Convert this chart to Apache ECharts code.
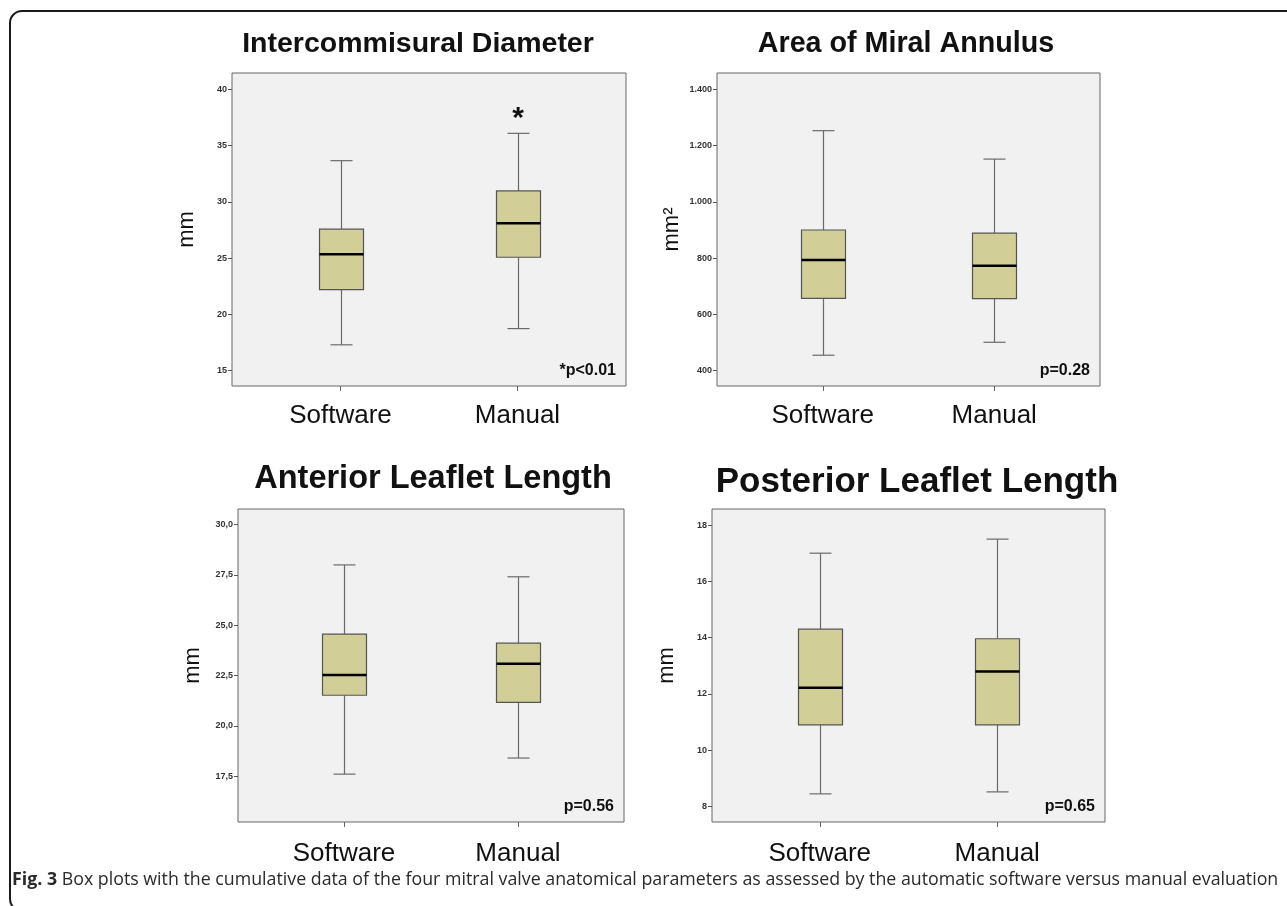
<!DOCTYPE html>
<html>
<head>
<meta charset="utf-8">
<script src="https://cdn.jsdelivr.net/npm/echarts@6/dist/echarts.min.js"></script>
<style>
    html, body { margin: 0; padding: 0; background: #fff; }
    #main { width: 1287px; height: 906px; }
</style>
</head>
<body>
<div id="main"></div>
<script>
    // box values: [low whisker, Q1, median, Q3, high whisker], one row per category
    var categories = ['Software', 'Manual'];

    var diameterBoxes = [
        [17.3, 22.2, 25.35, 27.57, 33.66],
        [18.74, 25.08, 28.1, 30.97, 36.09]
    ];
    var areaBoxes = [
        [455, 657, 793, 900, 1253],
        [501, 656, 773, 889, 1152]
    ];
    var anteriorBoxes = [
        [17.6, 21.52, 22.53, 24.56, 28.0],
        [18.4, 21.17, 23.09, 24.11, 27.41]
    ];
    var posteriorBoxes = [
        [8.45, 10.9, 12.22, 14.3, 17.0],
        [8.52, 10.9, 12.8, 13.96, 17.5]
    ];

    var diameterTicks = [15, 20, 25, 30, 35, 40];
    var areaTicks = [400, 600, 800, 1000, 1200, 1400];
    var anteriorTicks = [17.5, 20, 22.5, 25, 27.5, 30];
    var posteriorTicks = [8, 10, 12, 14, 16, 18];

    var titles = ['Intercommisural Diameter', 'Area of Miral Annulus', 'Anterior Leaflet Length', 'Posterior Leaflet Length'];
    var units = ['mm', 'mm²', 'mm', 'mm'];
    var pValues = ['*p<0.01', 'p=0.28', 'p=0.56', 'p=0.65'];

    var FONT = '"Liberation Sans", Arial, sans-serif';

    // layout of each panel: plot frame and the inner band holding the two boxes
    var panels = [
        {frame: [232, 73, 394, 313], inner: [252, 354], range: [13.64, 41.45],
            titleX: 413, titleY: 25, titleSize: 28.5, labelGap: 17,
            boxes: diameterBoxes, ticks: diameterTicks, fmt: function (v) { return String(v); }},
        {frame: [717, 73, 383, 313], inner: [737, 343], range: [345.6, 1458],
            titleX: 901, titleY: 25, titleSize: 28.7, labelGap: 17,
            boxes: areaBoxes, ticks: areaTicks, fmt: function (v) { return v >= 1000 ? (v / 1000).toFixed(3) : String(v); }},
        {frame: [238, 509, 386, 313], inner: [257, 348], range: [15.22, 30.78],
            titleX: 428, titleY: 458, titleSize: 32.5, labelGap: 19,
            boxes: anteriorBoxes, ticks: anteriorTicks, fmt: function (v) { return v.toFixed(1).replace('.', ','); }},
        {frame: [712, 509, 393, 313], inner: [731, 355], range: [7.45, 18.57],
            titleX: 912, titleY: 460, titleSize: 35, labelGap: 19,
            boxes: posteriorBoxes, ticks: posteriorTicks, fmt: function (v) { return String(v); }}
    ];

    function renderBox(params, api) {
        var idx = api.value(0);
        var low = api.coord([idx, api.value(1)]);
        var q1 = api.coord([idx, api.value(2)]);
        var med = api.coord([idx, api.value(3)]);
        var q3 = api.coord([idx, api.value(4)]);
        var high = api.coord([idx, api.value(5)]);
        var cx = Math.round(low[0]) + 0.5;
        var half = 22, cap = 11;
        var whisker = {stroke: '#6a6a6a', lineWidth: 1.2};
        return {
            type: 'group',
            children: [
                {type: 'line', shape: {x1: cx, y1: q3[1], x2: cx, y2: high[1]}, style: whisker},
                {type: 'line', shape: {x1: cx, y1: q1[1], x2: cx, y2: low[1]}, style: whisker},
                {type: 'line', shape: {x1: cx - cap, y1: high[1], x2: cx + cap, y2: high[1]}, style: whisker},
                {type: 'line', shape: {x1: cx - cap, y1: low[1], x2: cx + cap, y2: low[1]}, style: whisker},
                {type: 'rect', shape: {x: cx - half, y: q3[1], width: half * 2, height: q1[1] - q3[1]},
                    style: {fill: '#d1ce98', stroke: '#555', lineWidth: 1.2}},
                {type: 'line', shape: {x1: cx - half, y1: med[1], x2: cx + half, y2: med[1]},
                    style: {stroke: '#000', lineWidth: 2.5}}
            ]
        };
    }

    var grid = [], xAxis = [], yAxis = [], series = [], title = [];
    var graphic = [
        {type: 'rect', z: -10, shape: {x: 10, y: 11, width: 1300, height: 900, r: 12},
            style: {fill: 'none', stroke: '#1a1a1a', lineWidth: 2}}
    ];

    panels.forEach(function (p, k) {
        grid[k] = {left: p.frame[0], top: p.frame[1], width: p.frame[2], height: p.frame[3],
            show: true, backgroundColor: '#f1f1f1', borderColor: '#666', borderWidth: 1};
        grid[4 + k] = {left: p.inner[0], top: p.frame[1], width: p.inner[1], height: p.frame[3]};

        xAxis[k] = {type: 'value', gridIndex: k, show: false};
        xAxis[4 + k] = {
            type: 'category', gridIndex: 4 + k, data: categories,
            axisLine: {show: false},
            axisTick: {show: true, alignWithLabel: true, length: 5, lineStyle: {color: '#666'}},
            axisLabel: {fontFamily: FONT, fontSize: 26, color: '#111', margin: p.labelGap}
        };
        yAxis[k] = {
            type: 'value', gridIndex: k, min: p.range[0], max: p.range[1],
            splitLine: {show: false}, axisLine: {show: false},
            axisTick: {show: true, length: 4, customValues: p.ticks, lineStyle: {color: '#555'}},
            axisLabel: {customValues: p.ticks, formatter: p.fmt, fontFamily: FONT, fontSize: 9,
                fontWeight: 'bold', color: '#333', margin: 5},
            name: units[k], nameLocation: 'middle', nameRotate: 90, nameGap: 34,
            nameTextStyle: {fontFamily: FONT, fontSize: 22, color: '#111'}
        };
        yAxis[4 + k] = {type: 'value', gridIndex: 4 + k, min: p.range[0], max: p.range[1], show: false};

        series.push({
            type: 'custom', xAxisIndex: 4 + k, yAxisIndex: 4 + k,
            renderItem: renderBox,
            encode: {x: 0, y: [1, 2, 3, 4, 5]},
            data: p.boxes.map(function (b, i) { return [i].concat(b); })
        });

        title.push({
            text: titles[k], left: p.titleX, top: p.titleY, textAlign: 'center',
            textStyle: {fontFamily: FONT, fontSize: p.titleSize, fontWeight: 'bold', color: '#111'}
        });

        graphic.push({
            type: 'text', z: 10,
            x: p.frame[0] + p.frame[2] - 10, y: p.frame[1] + p.frame[3] - 15,
            style: {text: pValues[k], font: 'bold 16px ' + FONT, fill: '#111', align: 'right', verticalAlign: 'middle'}
        });
    });

    // significance star above the manual box of the first panel
    graphic.push({
        type: 'text', z: 10, x: 518, y: 119,
        style: {text: '*', font: 'bold 30px ' + FONT, fill: '#111', align: 'center', verticalAlign: 'middle'}
    });

    graphic.push({
        type: 'text', z: 10, x: 12, y: 880,
        style: {
            text: '{b|Fig. 3} Box plots with the cumulative data of the four mitral valve anatomical parameters as assessed by the automatic software versus manual evaluation',
            font: '17.8px "Open Sans", sans-serif', fill: '#2a2a2a', verticalAlign: 'middle',
            rich: {b: {font: 'bold 17.8px "Open Sans", sans-serif', fill: '#2a2a2a'}}
        }
    });

    var chart = echarts.init(document.getElementById('main'));
    chart.setOption({
        animation: false,
        title: title,
        grid: grid,
        xAxis: xAxis,
        yAxis: yAxis,
        series: series,
        graphic: graphic
    });
</script>
</body>
</html>
